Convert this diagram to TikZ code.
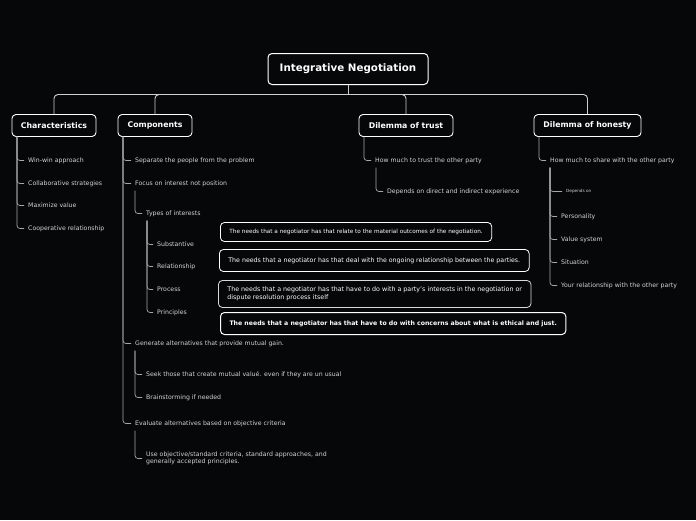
\documentclass[tikz,border=0pt]{standalone}
\usepackage{fontspec}
\setmainfont{DejaVu Sans}
\usetikzlibrary{positioning}
\definecolor{bgdark}{HTML}{060709}
\definecolor{twiggrey}{HTML}{A8A8A8}
\definecolor{itemgrey}{HTML}{D4D4D4}
\definecolor{busgrey}{HTML}{D0D0D0}
\tikzset{
  topic/.style={draw=white, line width=1pt, rounded corners=4pt, text=white,
    font=\fontsize{10.3}{12}\selectfont\bfseries, minimum width=160pt, minimum height=31pt},
  branch/.style={draw=white, line width=0.9pt, rounded corners=4pt, text=white,
    font=\fontsize{7.8}{9}\selectfont\bfseries, minimum height=22pt},
  item/.style={anchor=west, text=itemgrey, inner xsep=4pt, inner ysep=1pt,
    font=\fontsize{6.2}{7.5}\selectfont},
  note/.style={anchor=west, draw=white, line width=0.8pt, rounded corners=4pt,
    text=white, inner xsep=9pt, align=left},
  bus/.style={draw=busgrey, line width=0.9pt, rounded corners=4pt},
  twig/.style={draw=twiggrey, line width=0.7pt, rounded corners=3pt},
}

\begin{document}
\begin{tikzpicture}[x=1pt,y=-1pt]
  \fill[bgdark] (0,-1.5) rectangle (696,518.5);

  % central topic and main branches
  \node[topic] (root) at (348,67.5) {Integrative Negotiation};
  \node[branch, minimum width=84pt] (char) at (54,124) {Characteristics};
  \node[branch, minimum width=74pt] (comp) at (155,124) {Components};
  \node[branch, minimum width=94pt] (trust) at (406,124) {Dilemma of trust};
  \node[branch, minimum width=107pt] (honest) at (587.5,124) {Dilemma of honesty};

  \coordinate (hub) at (348,93);
  \draw[bus] (root.south) -- (hub);
  \draw[bus] (hub) -| (char.north);
  \draw[bus] (hub) -| (comp.north);
  \draw[bus] (hub) -| (trust.north);
  \draw[bus] (hub) -| (honest.north);

  % characteristics
  \node[item] (winwin) at (24,159) {Win-win approach};
  \node[item] (collab) at (24,182) {Collaborative strategies};
  \node[item] (maxval) at (24,204) {Maximize value};
  \node[item] (coop) at (24,227) {Cooperative relationship};
  \coordinate (charS) at (17,135);
  \foreach \n in {winwin,collab,maxval,coop}
    \draw[twig] (charS) |- (\n.west);

  % components
  \node[item] (separate) at (131,159) {Separate the people from the problem};
  \node[item] (focus) at (131,182) {Focus on interest not position};
  \node[item] (types) at (142,212) {Types of interests};
  \node[item] (subst) at (153,243) {Substantive};
  \node[item] (relat) at (153,265) {Relationship};
  \node[item] (proc) at (153,288) {Process};
  \node[item] (princ) at (153,311) {Principles};
  \node[item] (generate) at (131,342) {Generate alternatives that provide mutual gain.};
  \node[item] (seek) at (142,373) {Seek those that create mutual valué. even if they are un usual};
  \node[item] (brain) at (142,396) {Brainstorming if needed};
  \node[item] (evaluate) at (131,422) {Evaluate alternatives based on objective criteria};
  \node[item, align=left] (useobj) at (142,457) {Use objective/standard criteria, standard approaches, and\\generally accepted principles.};
  \coordinate (compS) at (123,135);
  \foreach \n in {separate,focus,generate,evaluate}
    \draw[twig] (compS) |- (\n.west);
  \coordinate (focusS) at (135,189);
  \draw[twig] (focusS) |- (types.west);
  \coordinate (typesS) at (147,219);
  \foreach \n in {subst,relat,proc,princ}
    \draw[twig] (typesS) |- (\n.west);
  \coordinate (genS) at (135,349);
  \foreach \n in {seek,brain}
    \draw[twig] (genS) |- (\n.west);
  \coordinate (evalS) at (135,429);
  \draw[twig] (evalS) |- (useobj.west);

  % interest notes
  \node[note, minimum height=19pt, font=\fontsize{5.73}{6.5}\selectfont] (substnote) at (220,230.5)
    {The needs that a negotiator has that relate to the material outcomes of the negotiation.};
  \node[note, minimum height=22pt, font=\fontsize{6.27}{7.5}\selectfont] (relatnote) at (219,259)
    {The needs that a negotiator has that deal with the ongoing relationship between the parties.};
  \node[note, minimum height=27pt, draw=white!85!black, font=\fontsize{6.34}{7.6}\selectfont] (procnote) at (218,292.5)
    {The needs that a negotiator has that have to do with a party's interests in the negotiation or\\dispute resolution process itself};
  \node[note, minimum height=22pt, line width=1pt, font=\fontsize{6.19}{7.5}\selectfont\bfseries] (princnote) at (220,322)
    {The needs that a negotiator has that have to do with concerns about what is ethical and just.};

  % dilemma of trust
  \node[item] (howtrust) at (371,159) {How much to trust the other party};
  \node[item] (direct) at (383,190) {Depends on direct and indirect experience};
  \coordinate (trustS) at (364,135);
  \draw[twig] (trustS) |- (howtrust.west);
  \coordinate (howtrustS) at (376,166);
  \draw[twig] (howtrustS) |- (direct.west);

  % dilemma of honesty
  \node[item] (howshare) at (546,159) {How much to share with the other party};
  \node[item, font=\fontsize{4.2}{5}\selectfont] (depends) at (562,190) {Depends on};
  \node[item] (person) at (557,215) {Personality};
  \node[item] (valsys) at (557,238) {Value system};
  \node[item] (situ) at (557,261) {Situation};
  \node[item] (yourrel) at (557,284) {Your relationship with the other party};
  \coordinate (honestS) at (539,135);
  \draw[twig] (honestS) |- (howshare.west);
  \coordinate (howshareS) at (550,166);
  \foreach \n in {depends,person,valsys,situ,yourrel}
    \draw[twig] (howshareS) |- (\n.west);
\end{tikzpicture}
\end{document}
